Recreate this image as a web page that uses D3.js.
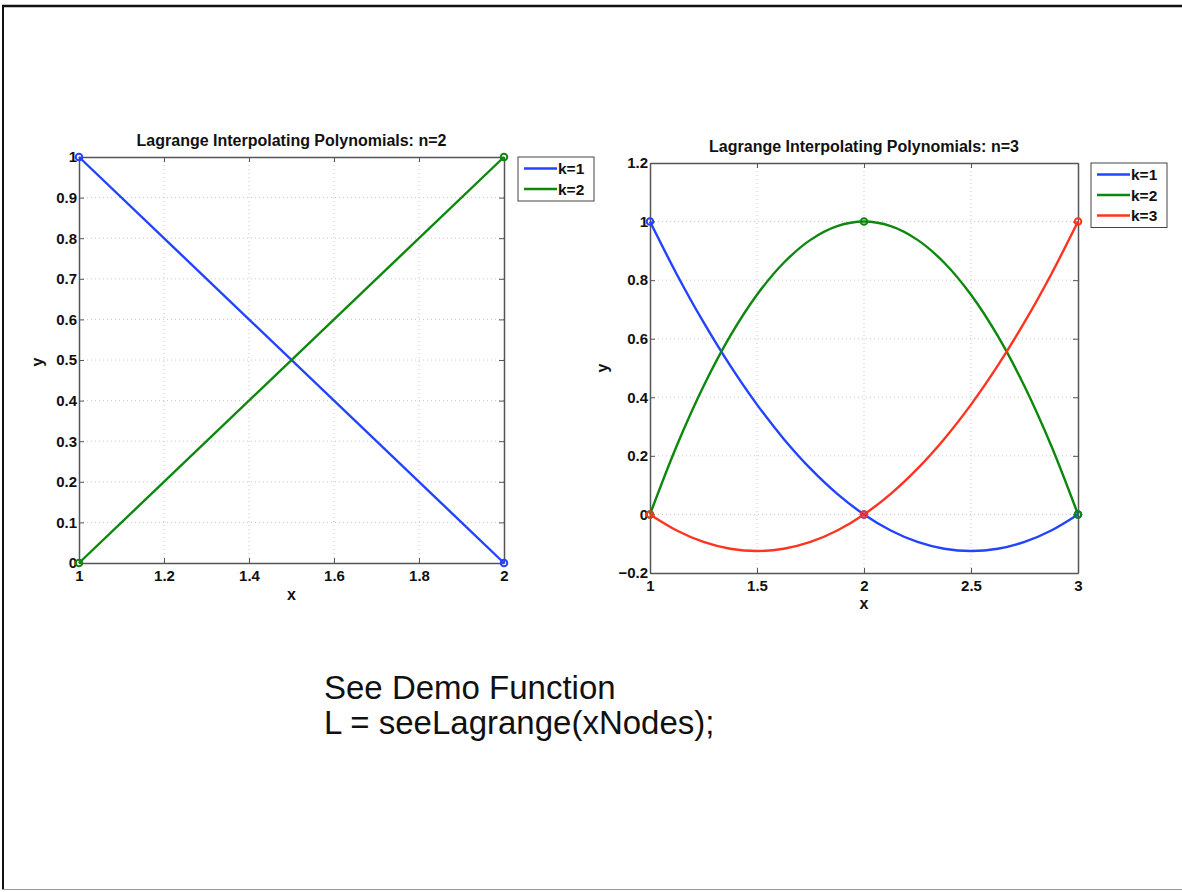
<!DOCTYPE html>
<html lang="en">
    <head>
        <meta charset="utf-8">
        <title>Lagrange Interpolating Polynomials</title>
        <script src="https://d3js.org/d3.v7.min.js"></script>
        <style>
            body { margin: 0; background: #fff; overflow: hidden; }
            svg { display: block; }
            text { font-family: "Liberation Sans", Arial, sans-serif; }
        </style>
    </head>

    <body>
        <div id="div-1"></div>

        <script>

            // ---- data ----
            // n = 2 : nodes 1, 2
            var xs2 = [1, 2];
            var n2_k1 = [1, 0];
            var n2_k2 = [0, 1];
            var n2Ticks_x = [1, 1.2, 1.4, 1.6, 1.8, 2];
            var n2Ticks_y = [0, 0.1, 0.2, 0.3, 0.4, 0.5, 0.6, 0.7, 0.8, 0.9, 1];

            var xs3 = [1, 1.125, 1.25, 1.375, 1.5, 1.625, 1.75, 1.875, 2, 2.125, 2.25, 2.375, 2.5, 2.625, 2.75, 2.875, 3];
            var n3_k1 = [1, 0.8203, 0.6563, 0.5078, 0.375, 0.2578, 0.1563, 0.0703, 0, -0.0547, -0.0938, -0.1172, -0.125, -0.1172, -0.0938, -0.0547, 0];
            var n3_k2 = [0, 0.2344, 0.4375, 0.6094, 0.75, 0.8594, 0.9375, 0.9844, 1, 0.9844, 0.9375, 0.8594, 0.75, 0.6094, 0.4375, 0.2344, 0];
            var n3_k3 = [0, -0.0547, -0.0938, -0.1172, -0.125, -0.1172, -0.0938, -0.0547, 0, 0.0703, 0.1563, 0.2578, 0.375, 0.5078, 0.6563, 0.8203, 1];
            var nodes3 = [1, 2, 3];
            var n3Ticks_x = [1, 1.5, 2, 2.5, 3];
            var n3Ticks_y = [-0.2, 0, 0.2, 0.4, 0.6, 0.8, 1, 1.2];

            var legendLabels2 = ["k=1", "k=2"];
            var legendLabels3 = ["k=1", "k=2", "k=3"];

            var colors = ["#2243ff", "#0c880c", "#ff3420"];

            var svg = d3.select("#div-1")
                        .append("svg")
                        .attr("width", 1182)
                        .attr("height", 892);

            // slide frame
            svg.append("line").attr("x1", 2).attr("x2", 1182).attr("y1", 6).attr("y2", 6)
                .attr("stroke", "#111").attr("stroke-width", 2.5);
            svg.append("line").attr("x1", 3).attr("x2", 3).attr("y1", 5).attr("y2", 889)
                .attr("stroke", "#111").attr("stroke-width", 2);
            svg.append("line").attr("x1", 2).attr("x2", 1182).attr("y1", 889.5).attr("y2", 889.5)
                .attr("stroke", "#999").attr("stroke-width", 1);

            function fmt(v) {
                var s = d3.format("~g")(v);
                return s.replace("-", "\u2013");
            }

            function drawPlot(opts) {
                var g = svg.append("g");
                var x = d3.scaleLinear().domain(opts.xDomain).range([opts.left, opts.right]);
                var y = d3.scaleLinear().domain(opts.yDomain).range([opts.bottom, opts.top]);

                // dotted grid
                g.selectAll(".gx").data(opts.xTicks.slice(1, -1)).enter().append("line")
                    .attr("x1", function(d){ return x(d); }).attr("x2", function(d){ return x(d); })
                    .attr("y1", opts.top).attr("y2", opts.bottom)
                    .attr("stroke", "#c8c8c8").attr("stroke-dasharray", "1,3");
                g.selectAll(".gy").data(opts.yTicks.slice(1, -1)).enter().append("line")
                    .attr("y1", function(d){ return y(d); }).attr("y2", function(d){ return y(d); })
                    .attr("x1", opts.left).attr("x2", opts.right)
                    .attr("stroke", "#c8c8c8").attr("stroke-dasharray", "1,3");

                // axes (ticks point inward, MATLAB style)
                var ax = g.append("g").attr("transform", "translate(0," + opts.bottom + ")")
                    .call(d3.axisBottom(x).tickValues(opts.xTicks).tickFormat(fmt).tickSizeInner(-5).tickSizeOuter(0).tickPadding(7));
                var ay = g.append("g").attr("transform", "translate(" + opts.left + ",0)")
                    .call(d3.axisLeft(y).tickValues(opts.yTicks).tickFormat(fmt).tickSizeInner(-5).tickSizeOuter(0).tickPadding(2));
                var at = g.append("g").attr("transform", "translate(0," + opts.top + ")")
                    .call(d3.axisTop(x).tickValues(opts.xTicks).tickFormat("").tickSizeInner(-5).tickSizeOuter(0));
                var ar = g.append("g").attr("transform", "translate(" + opts.right + ",0)")
                    .call(d3.axisRight(y).tickValues(opts.yTicks).tickFormat("").tickSizeInner(-5).tickSizeOuter(0));

                [ax, ay, at, ar].forEach(function(a){
                    a.select(".domain").attr("stroke", "#555").attr("stroke-width", 1.5);
                    a.selectAll(".tick line").attr("stroke", "#555");
                    a.selectAll(".tick text").attr("font-size", 15).attr("font-weight", "bold")
                        .attr("fill", "#111").style("font-family", "'Liberation Sans', Arial, sans-serif");
                });
                ax.selectAll(".tick text").attr("dy", "0.71em");

                // curves
                var line = d3.line()
                    .x(function(d){ return x(d[0]); })
                    .y(function(d){ return y(d[1]); })
                    .curve(opts.series[0].length > 2 ? d3.curveCatmullRom : d3.curveLinear);

                opts.series.forEach(function(s, i){
                    var pts = opts.xs.map(function(v, j){ return [v, s[j]]; });
                    g.append("path").datum(pts)
                        .attr("d", line)
                        .attr("fill", "none")
                        .attr("stroke", colors[i])
                        .attr("stroke-width", 2.4);
                });

                // node markers
                opts.series.forEach(function(s, i){
                    var pts = opts.xs.map(function(v, j){ return [v, s[j]]; })
                        .filter(function(p){ return opts.nodes.indexOf(p[0]) >= 0; });
                    g.selectAll(null).data(pts).enter().append("circle")
                        .attr("cx", function(d){ return x(d[0]); })
                        .attr("cy", function(d){ return y(d[1]); })
                        .attr("r", 3.3)
                        .attr("fill", "none")
                        .attr("stroke", colors[i])
                        .attr("stroke-width", 2);
                });

                // title + labels
                g.append("text")
                    .attr("x", (opts.left + opts.right) / 2)
                    .attr("y", opts.titleY)
                    .attr("text-anchor", "middle")
                    .attr("font-size", 16).attr("font-weight", "bold").attr("fill", "#111")
                    .text(opts.title);
                g.append("text")
                    .attr("x", (opts.left + opts.right) / 2)
                    .attr("y", opts.xLabelY)
                    .attr("text-anchor", "middle")
                    .attr("font-size", 16).attr("font-weight", "bold").attr("fill", "#111")
                    .text("x");
                g.append("text")
                    .attr("transform", "translate(" + opts.yLabelX + "," + opts.yLabelY + ") rotate(-90)")
                    .attr("text-anchor", "middle")
                    .attr("font-size", 16).attr("font-weight", "bold").attr("fill", "#111")
                    .text("y");

                // legend
                var lg = g.append("g").attr("transform", "translate(" + opts.legend[0] + "," + opts.legend[1] + ")");
                lg.append("rect")
                    .attr("width", 76).attr("height", opts.legendLabels.length * 20.5 + 3)
                    .attr("fill", "#fff").attr("stroke", "#444").attr("stroke-width", 1);
                opts.legendLabels.forEach(function(lbl, i){
                    var yy = 11.5 + i * 20.5;
                    lg.append("line").attr("x1", 6).attr("x2", 39).attr("y1", yy).attr("y2", yy)
                        .attr("stroke", colors[i]).attr("stroke-width", 2.4);
                    lg.append("text").attr("x", 40).attr("y", yy + 5.5)
                        .attr("font-size", 15.5).attr("font-weight", "bold").attr("fill", "#111")
                        .text(lbl);
                });
            }

            drawPlot({
                left: 79, right: 504, top: 157, bottom: 563,
                xDomain: [1, 2], yDomain: [0, 1],
                xTicks: n2Ticks_x, yTicks: n2Ticks_y,
                xs: xs2, series: [n2_k1, n2_k2], nodes: xs2,
                title: "Lagrange Interpolating Polynomials: n=2",
                titleY: 146, xLabelY: 600, yLabelX: 43, yLabelY: 362,
                legend: [518, 157], legendLabels: legendLabels2
            });

            drawPlot({
                left: 650, right: 1078, top: 163, bottom: 573,
                xDomain: [1, 3], yDomain: [-0.2, 1.2],
                xTicks: n3Ticks_x, yTicks: n3Ticks_y,
                xs: xs3, series: [n3_k1, n3_k2, n3_k3], nodes: nodes3,
                title: "Lagrange Interpolating Polynomials: n=3",
                titleY: 152, xLabelY: 609, yLabelX: 608, yLabelY: 368,
                legend: [1091, 163], legendLabels: legendLabels3
            });

            // caption text
            svg.append("text").attr("x", 324).attr("y", 699)
                .attr("font-size", 33).attr("fill", "#111")
                .text("See Demo Function");
            svg.append("text").attr("x", 324).attr("y", 734)
                .attr("font-size", 33).attr("fill", "#111")
                .text("L = seeLagrange(xNodes);");

        </script>
    </body>
</html>
